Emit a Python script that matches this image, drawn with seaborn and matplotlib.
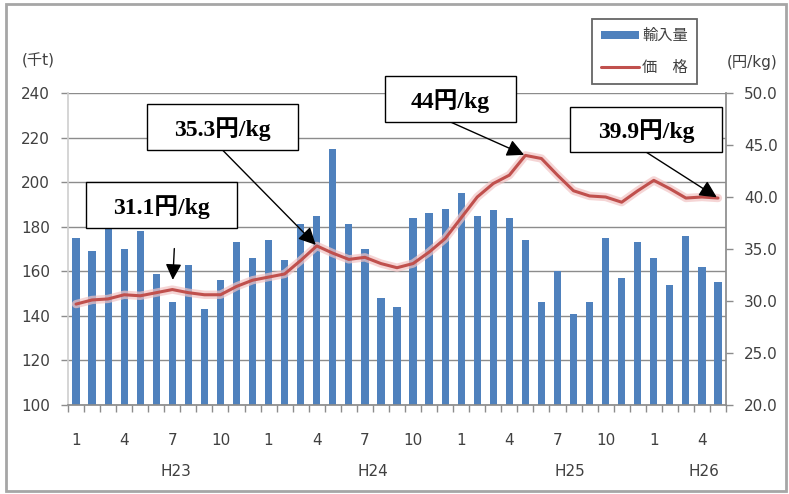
import numpy as np
import pandas as pd
import matplotlib
matplotlib.use("Agg")
import matplotlib.pyplot as plt
import matplotlib.patheffects as pe
from matplotlib.patches import Rectangle, Patch
from matplotlib.lines import Line2D
import seaborn as sns

# Monthly data, H23 Jan - H26 May
months = list(range(1, 13)) * 3 + list(range(1, 6))
years = ["H23", "H24", "H25", "H26"]
year_pos = [6.25, 18.5, 30.8, 39.1]

# 輸入量 (千t)
volume = [175, 169, 183, 170, 178, 159, 146, 163, 143, 156,
          173, 166, 174, 165, 181, 185, 215, 181, 170, 148,
          144, 184, 186, 188, 195, 185, 187.5, 184, 174, 146,
          160, 141, 146, 175, 157, 173, 166, 154, 176, 162, 155]

# 価格 (円/kg)
price = [29.7, 30.1, 30.2, 30.6, 30.5, 30.8, 31.1, 30.8, 30.6, 30.6,
         31.4, 32.0, 32.3, 32.6, 33.9, 35.3, 34.6, 34.0, 34.2, 33.6,
         33.2, 33.6, 34.7, 36.0, 38.0, 40.0, 41.3, 42.1, 44.0, 43.7,
         42.1, 40.6, 40.1, 40.0, 39.5, 40.6, 41.6, 40.8, 39.9, 40.0, 39.9]

# callouts: index of the month each one points at, box (left, top, right, bottom) in pixels
callout_idx = [6, 15, 28, 40]
callout_box = [(86, 182, 237, 228), (147, 104, 298, 150),
               (385, 76, 516, 122), (570, 107, 722, 152)]

BLUE = "#4F81BD"
RED = "#C0504D"
GRID = "#8c8c8c"
TXT = "#404040"

sns.set_theme(style="white")
plt.rcParams["font.family"] = ["DejaVu Sans", "Noto Sans CJK JP"]

W, H = 789, 494
fig = plt.figure(figsize=(W / 100, H / 100), dpi=100)
fig.patch.set_facecolor("white")

def fx(px):
    return px / W

def fy(py):
    return 1 - py / H

ax = fig.add_axes([fx(68), fy(405), (726 - 68) / W, (405 - 93) / H])
df = pd.DataFrame({"idx": range(len(volume)), "volume": volume, "price": price})

sns.barplot(data=df, x="idx", y="volume", color=BLUE, saturation=1,
            width=0.45, linewidth=0, ax=ax)
ax.set_ylim(100, 240)
ax.set_yticks(range(100, 241, 20))
ax.yaxis.grid(True, color=GRID, lw=1)
ax.set_axisbelow(True)
ax.set_xlabel("")
ax.set_ylabel("")

# category boundaries as tick marks, month numbers as labels
n = len(volume)
ax.set_xticks(np.arange(-0.5, n, 1))
ax.set_xticklabels([])
lab_pos = [i for i, m in enumerate(months) if m in (1, 4, 7, 10)]
ax.set_xticks(lab_pos, minor=True)
ax.set_xticklabels([str(months[i]) for i in lab_pos], minor=True)
ax.tick_params(axis="x", which="major", length=5, width=1, color=GRID,
               direction="out", bottom=True)
ax.tick_params(axis="x", which="minor", length=0, pad=20, labelsize=11,
               labelcolor=TXT, bottom=True)
ax.tick_params(axis="y", which="major", length=5, width=1, color=GRID,
               direction="out", left=True, pad=8, labelsize=11, labelcolor=TXT)

for s in ["top", "right"]:
    ax.spines[s].set_visible(False)
ax.spines["bottom"].set_color(GRID)
ax.spines["left"].set_color("#d0d0d0")

for yl, xp in zip(years, year_pos):
    ax.text(xp, -0.212, yl, transform=ax.get_xaxis_transform(),
            ha="center", va="center", fontsize=11, color=TXT)

ax2 = ax.twinx()
sns.lineplot(data=df, x="idx", y="price", ax=ax2, color=RED, lw=2.2,
             path_effects=[pe.Stroke(linewidth=6, foreground="#f2c4c4", alpha=0.7),
                           pe.Normal()])
ax2.set_ylim(20, 50)
ax2.set_yticks(np.arange(20, 50.1, 5))
ax2.set_yticklabels([f"{v:.1f}" for v in np.arange(20, 50.1, 5)])
ax2.set_xlim(-0.5, n - 0.5)
ax.set_xlim(-0.5, n - 0.5)
ax2.set_xlabel("")
ax2.set_ylabel("")
ax2.tick_params(axis="y", length=5, width=1, color=GRID, direction="out",
                right=True, pad=8, labelsize=11, labelcolor=TXT)
for s in ["top", "left", "bottom"]:
    ax2.spines[s].set_visible(False)
ax2.spines["right"].set_color(GRID)
ax2.grid(False)

# unit labels
fig.text(fx(38), fy(61), "(千t)", ha="center", va="center", fontsize=11, color=TXT)
fig.text(fx(752), fy(63), "(円/kg)", ha="center", va="center", fontsize=11, color=TXT)

# legend
handles = [Patch(facecolor=BLUE, edgecolor="none"),
           Line2D([0], [0], color=RED, lw=2.2)]
leg = fig.legend(handles, ["輸入量", "価　格"], loc="upper left",
                 bbox_to_anchor=(fx(592), fy(19)), borderaxespad=0,
                 fontsize=11, frameon=True, fancybox=False, edgecolor="#404040",
                 handlelength=2.5, handleheight=0.45, labelspacing=1.1,
                 borderpad=0.6, handletextpad=0.2)
leg.get_frame().set_linewidth(1.3)
for t in leg.get_texts():
    t.set_color(TXT)

# callout boxes with arrows to the price line
serif = ["Liberation Serif", "Noto Sans CJK JP"]
for i, (l, t, r, b) in zip(callout_idx, callout_box):
    fig.add_artist(Rectangle((fx(l), fy(b)), (r - l) / W, (b - t) / H,
                             transform=fig.transFigure, facecolor="white",
                             edgecolor="black", lw=1, zorder=5))
    fig.text(fx((l + r) / 2), fy((t + b) / 2 + 2), f"{price[i]:g}円/kg",
             ha="center", va="center", fontsize=17, fontweight="bold",
             family=serif, color="black", zorder=6)

# first callout uses a short vertical arrow
ax2.annotate("", xy=(callout_idx[0], price[callout_idx[0]]), xycoords="data",
             xytext=(2, 41), textcoords="offset pixels",
             arrowprops=dict(arrowstyle="-|>", color="black", lw=1,
                             mutation_scale=24, shrinkA=0, shrinkB=7),
             annotation_clip=False, zorder=7)
for i, (l, t, r, b) in list(zip(callout_idx, callout_box))[1:]:
    ax2.annotate("", xy=(i, price[i]), xycoords="data",
                 xytext=(fx((l + r) / 2), fy(b)), textcoords="figure fraction",
                 arrowprops=dict(arrowstyle="-|>", color="black", lw=1,
                                 mutation_scale=26, shrinkA=0, shrinkB=1),
                 annotation_clip=False, zorder=7)

# outer chart frame
fig.add_artist(Rectangle((fx(6), fy(491)), (786 - 6) / W, (491 - 4) / H,
                         transform=fig.transFigure, fill=False,
                         edgecolor="#a6a6a6", lw=2, zorder=10))

fig.savefig("out.png", dpi=100, facecolor="white")
